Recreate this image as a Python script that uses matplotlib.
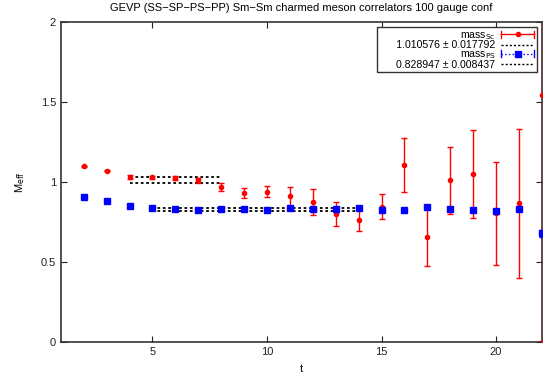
import matplotlib
matplotlib.use("Agg")
import matplotlib.pyplot as plt
from matplotlib.lines import Line2D
from matplotlib.legend_handler import HandlerBase

plt.rcParams['font.family'] = ['Liberation Sans', 'DejaVu Sans']

t = list(range(2, 23))
mass_sc = [1.098, 1.072, 1.031, 1.030, 1.025, 1.010, 0.970, 0.930, 0.940, 0.910, 0.875,
           0.800, 0.765, 0.846, 1.106, 0.654, 1.012, 1.050, 0.804, 0.868, 1.544]
mass_sc_err = [0.005, 0.006, 0.010, 0.010, 0.012, 0.018, 0.025, 0.030, 0.035, 0.058, 0.082,
               0.073, 0.070, 0.080, 0.167, 0.177, 0.210, 0.275, 0.321, 0.466, 1.54]
mass_ps = [0.904, 0.879, 0.850, 0.838, 0.830, 0.826, 0.833, 0.830, 0.825, 0.838, 0.829,
           0.829, 0.835, 0.823, 0.823, 0.842, 0.830, 0.823, 0.817, 0.829, 0.679]
mass_ps_err = [0.003, 0.003, 0.003, 0.004, 0.004, 0.004, 0.004, 0.004, 0.005, 0.005, 0.005,
               0.005, 0.005, 0.006, 0.006, 0.010, 0.008, 0.010, 0.010, 0.010, 0.020]

fit_sc, fit_sc_err, fit_sc_range = 1.010576, 0.017792, (4, 8)
fit_ps, fit_ps_err, fit_ps_range = 0.828947, 0.008437, (5, 14)

title = "GEVP (SS\u2212SP\u2212PS\u2212PP) Sm\u2212Sm charmed meson correlators 100 gauge conf"
label_sc = "      1.010576 \u00b1 0.017792"
label_ps = "0.828947 \u00b1 0.008437"

fig = plt.figure(figsize=(5.53, 3.76), dpi=100)
ax = fig.add_axes([0.110, 0.0904, 0.870, 0.851])

dots = (0, (1.5, 1.5))

# fits
for v in (fit_sc - fit_sc_err, fit_sc + fit_sc_err):
    ax.plot(fit_sc_range, [v, v], color='black', ls=dots, lw=1.3)
for v in (fit_ps - fit_ps_err, fit_ps + fit_ps_err):
    ax.plot(fit_ps_range, [v, v], color='black', ls=dots, lw=1.3)

eb1 = ax.errorbar(t, mass_sc, yerr=mass_sc_err, fmt='o', color='#ff0000', ms=3.0,
                  elinewidth=1.0, capsize=2.5, capthick=1.0, zorder=3)
eb2 = ax.errorbar(t, mass_ps, yerr=mass_ps_err, fmt='s', color='#0000ff', ms=4.2,
                  elinewidth=1.0, capsize=2.5, capthick=1.0, zorder=4)
for c in eb2[2]:
    c.set_linestyle(':')

ax.set_xlim(1, 22)
ax.set_ylim(0, 2)
ax.set_xticks([5, 10, 15, 20])
ax.set_yticks([0, 0.5, 1, 1.5, 2])
ax.set_yticklabels(['0', '0.5', '1', '1.5', '2'])
ax.tick_params(direction='in', top=True, right=True, length=4, labelsize=8, width=0.8,
               colors='#222222')
for s in ax.spines.values():
    s.set_linewidth(1.2)
    s.set_color('#333333')
ax.set_xlabel('t', fontsize=8, labelpad=5)
ax.set_ylabel('M$_{\\rm eff}$', fontsize=8, labelpad=10)
ax.set_title(title, fontsize=8, pad=8)


class HErr(HandlerBase):
    def __init__(self, color, marker, ms, ls):
        super().__init__()
        self.color, self.marker, self.ms, self.ls = color, marker, ms, ls

    def create_artists(self, legend, orig_handle, xdescent, ydescent, width, height,
                       fontsize, trans):
        y = height / 2 - ydescent
        x0, x1 = -xdescent, width - xdescent
        arts = [Line2D([x0, x1], [y, y], color=self.color, ls=self.ls, lw=1.0, transform=trans)]
        if self.marker:
            arts.append(Line2D([x0, x0], [y - 2.5, y + 2.5], color=self.color, lw=1.0, transform=trans))
            arts.append(Line2D([x1, x1], [y - 2.5, y + 2.5], color=self.color, lw=1.0, transform=trans))
            arts.append(Line2D([(x0 + x1) / 2], [y], color=self.color, marker=self.marker,
                               ms=self.ms, ls='none', transform=trans))
        return arts


h1 = Line2D([], [])
h2 = Line2D([], [])
h3 = Line2D([], [])
h4 = Line2D([], [])
hm = {
    h1: HErr('#ff0000', 'o', 3.0, '-'),
    h2: HErr('black', None, 0, dots),
    h3: HErr('#0000ff', 's', 4.2, ':'),
    h4: HErr('black', None, 0, dots),
}
leg = ax.legend([h1, h2, h3, h4],
                ['mass$_{\\rm Sc}$', label_sc, 'mass$_{\\rm PS}$', label_ps],
                handler_map=hm, loc='upper right', markerfirst=False, fontsize=7.6,
                frameon=True, fancybox=False, edgecolor='#333333', framealpha=1,
                borderpad=0.25, labelspacing=-0.12, handlelength=3.1, handletextpad=0.55,
                borderaxespad=0.5)
leg.get_frame().set_linewidth(1.0)

fig.savefig('out.png', dpi=100)
